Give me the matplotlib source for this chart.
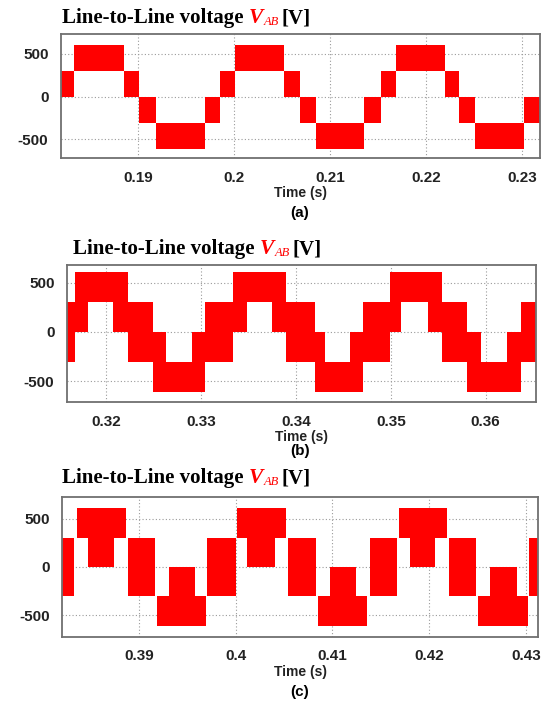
"""
Line-to-line voltage V_AB waveforms, panels (a) (b) (c)
"""

import matplotlib

matplotlib.use("Agg")
import matplotlib.pyplot as plt
import numpy as np

W, H = 547, 707

# 資料: 每一段的起訖時間 (s) 與上下電壓 (V); None = 空白段
edges_a = [0.1820, 0.18340, 0.18852, 0.19016, 0.19185, 0.19700, 0.19858,
           0.20008, 0.20528, 0.20686, 0.20856, 0.21360, 0.21530, 0.21685,
           0.22200, 0.22351, 0.22514, 0.23025, 0.2319]
low_a = [0, 305, 0, -305, -610, -305, 0, 305, 0, -305, -610, -305, 0, 305,
         0, -305, -610, -305]
high_a = [305, 610, 305, 0, -305, 0, 305, 610, 305, 0, -305, 0, 305, 610,
          305, 0, -305, 0]

edges_b = [0.31584, 0.31666, 0.31806, 0.32070, 0.32228, 0.32492, 0.32633,
           0.32899, 0.33035, 0.33339, 0.33482, 0.33750, 0.33893, 0.34196,
           0.34304, 0.34568, 0.34708, 0.34989, 0.35113, 0.35394, 0.35543,
           0.35807, 0.35954, 0.36229, 0.36376, 0.36532]
low_b = [-305, 0, 305, 0, -305, -610, -610, -610, -305, 0, 305, 0, -305,
         -610, -610, -610, -305, 0, 305, 0, -305, -610, -610, -610, -305]
high_b = [305, 610, 610, 610, 305, 0, -305, 0, 305, 610, 610, 610, 305,
          0, -305, 0, 305, 610, 610, 610, 305, 0, -305, 0, 305]

edges_c = [0.38207, 0.38336, 0.38361, 0.38474, 0.38748, 0.38869, 0.38887,
           0.39171, 0.39189, 0.39309, 0.39577, 0.39691, 0.39708, 0.40000,
           0.40017, 0.40120, 0.40412, 0.40526, 0.40540, 0.40828, 0.40850,
           0.40972, 0.41247, 0.41361, 0.41385, 0.41667, 0.41688, 0.41797,
           0.42065, 0.42187, 0.42205, 0.42488, 0.42508, 0.42625, 0.42905,
           0.43018, 0.43036, 0.43124]
low_c = [-305, None, 305, 0, 305, None, -305, None, -610, -610, -610, None,
         -305, None, 305, 0, 305, None, -305, None, -610, -610, -610, None,
         -305, None, 305, 0, 305, None, -305, None, -610, -610, -610, None,
         -305]
high_c = [305, None, 610, 610, 610, None, 305, None, -305, 0, -305, None,
          305, None, 610, 610, 610, None, 305, None, -305, 0, -305, None,
          305, None, 610, 610, 610, None, 305, None, -305, 0, -305, None,
          305]

xticks_a = [0.19, 0.20, 0.21, 0.22, 0.23]
xlabels_a = ["0.19", "0.2", "0.21", "0.22", "0.23"]
xticks_b = [0.32, 0.33, 0.34, 0.35, 0.36]
xlabels_b = ["0.32", "0.33", "0.34", "0.35", "0.36"]
xticks_c = [0.39, 0.40, 0.41, 0.42, 0.43]
xlabels_c = ["0.39", "0.4", "0.41", "0.42", "0.43"]
yticks = [-500, 0, 500]

# 版面 (px): left, top, right, bottom, ylim
panels = [
    dict(edges=edges_a, low=low_a, high=high_a, ticks=xticks_a,
         labels=xlabels_a, box=(61, 34, 540, 158), ylim=(-721, 734),
         title_xy=(62, 18), tag="(a)", tag_y=213),
    dict(edges=edges_b, low=low_b, high=high_b, ticks=xticks_b,
         labels=xlabels_b, box=(67, 265, 536, 402), ylim=(-711, 678),
         title_xy=(73, 249), tag="(b)", tag_y=451),
    dict(edges=edges_c, low=low_c, high=high_c, ticks=xticks_c,
         labels=xlabels_c, box=(62, 497, 538, 637), ylim=(-725, 725),
         title_xy=(62, 478), tag="(c)", tag_y=692),
]

RED = "#ff0000"
SANS = "Liberation Sans"
SERIF = "Liberation Serif"


def draw_title(fig, renderer, x_px, y_px):
    """逐段畫出標題: 黑色粗體 + 紅色斜體 V_AB + 黑色 [V]"""
    y = 1 - y_px / H
    t1 = fig.text(x_px / W, y, "Line-to-Line voltage", fontsize=15,
                  fontweight="bold", family=SERIF, va="center")
    bb = t1.get_window_extent(renderer)
    x = bb.x1 + 5
    t2 = fig.text(x / W, y, "V", fontsize=15.5, fontstyle="italic",
                  fontweight="bold", family=SERIF, color=RED, va="center")
    bb = t2.get_window_extent(renderer)
    x = bb.x1 + 0.5
    t3 = fig.text(x / W, y - 4 / H, "AB", fontsize=9, fontstyle="italic",
                  family=SERIF, color=RED, va="center")
    bb = t3.get_window_extent(renderer)
    x = bb.x1 + 3
    fig.text(x / W, y, "[V]", fontsize=15, fontweight="bold",
             family=SERIF, va="center")


fig = plt.figure(figsize=(W / 100, H / 100), dpi=100)
renderer = fig.canvas.get_renderer()

for p in panels:
    left, top, right, bottom = p["box"]
    ax = fig.add_axes([left / W, 1 - bottom / H, (right - left) / W,
                       (bottom - top) / H])
    ax.set_axisbelow(True)

    edges = np.array(p["edges"])
    low = np.array([np.nan if v is None else v for v in p["low"]], float)
    high = np.array([np.nan if v is None else v for v in p["high"]], float)
    ok = ~np.isnan(low)
    ax.bar(edges[:-1][ok], (high - low)[ok], width=np.diff(edges)[ok],
           bottom=low[ok], align="edge", color=RED, linewidth=0,
           antialiased=False, zorder=3)

    ax.set_xlim(edges[0], edges[-1])
    ax.set_ylim(*p["ylim"])
    ax.set_xticks(p["ticks"])
    ax.set_xticklabels(p["labels"])
    ax.set_yticks(yticks)
    ax.set_yticklabels([str(v) for v in yticks])
    ax.grid(True, linestyle=(0, (1, 2)), color="#9a9a9a", linewidth=0.8)
    ax.tick_params(length=0, labelsize=11, pad=9)
    for lab in ax.get_xticklabels() + ax.get_yticklabels():
        lab.set_fontweight("bold")
        lab.set_family(SANS)
        lab.set_color("#222222")
    for s in ax.spines.values():
        s.set_color("#707070")
        s.set_linewidth(1.3)
        s.set_zorder(4)

    ax.set_xlabel("Time (s)", fontsize=10, fontweight="bold", family=SANS,
                  labelpad=1, color="#222222")

    draw_title(fig, renderer, *p["title_xy"])
    fig.text(300 / W, 1 - p["tag_y"] / H, p["tag"], fontsize=11,
             fontweight="bold", family=SANS, ha="center", va="center")

plt.savefig("out.png", dpi=100)
plt.close()
